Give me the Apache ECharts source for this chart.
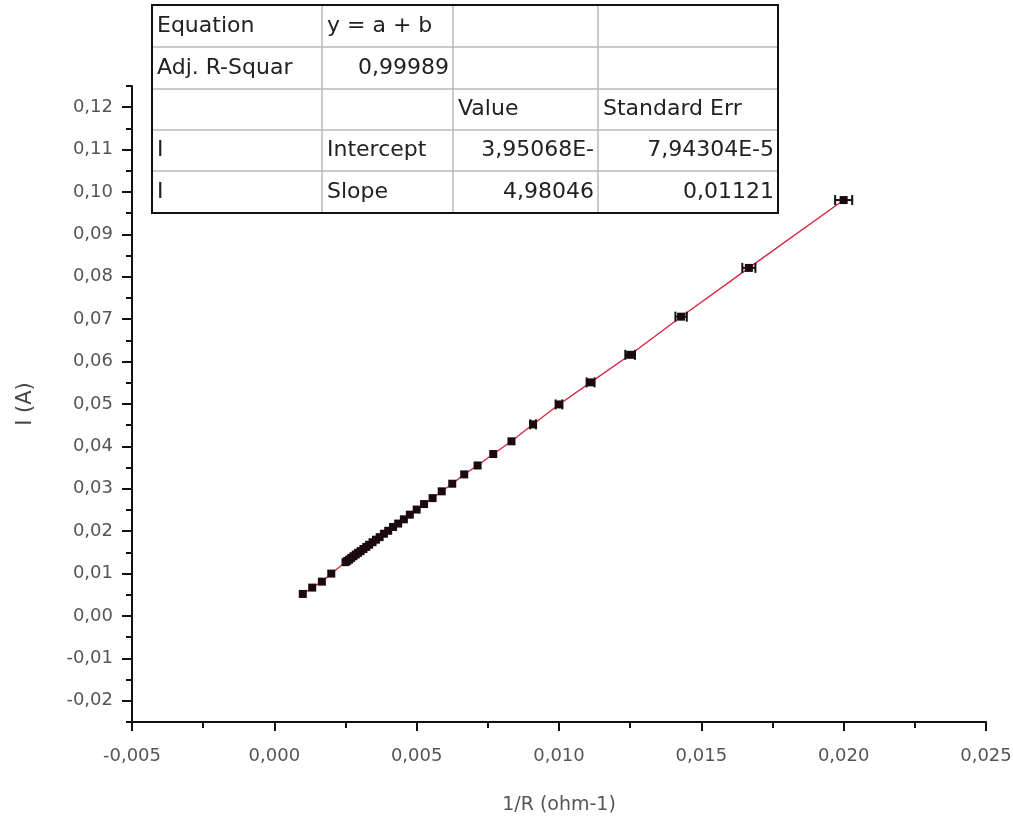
<!DOCTYPE html>
<html>
<head>
<meta charset="utf-8">
<script src="https://cdn.jsdelivr.net/npm/echarts@6/dist/echarts.min.js"></script>
<style>
  html, body { margin: 0; padding: 0; background: #fff; }
  #main { width: 1013px; height: 816px; }
</style>
</head>
<body>
<div id="main"></div>
<script>
// 1/R values (ohm^-1) and current I (A)
const xVals = [0.00100, 0.00133, 0.00167, 0.00200,
  0.00250, 0.00256, 0.00263, 0.00270, 0.00278, 0.00286, 0.00294, 0.00303,
  0.00313, 0.00323, 0.00333, 0.00345, 0.00357, 0.00370, 0.00385, 0.00400,
  0.00417, 0.00435, 0.00455, 0.00476, 0.00500, 0.00526, 0.00556, 0.00588,
  0.00625, 0.00667, 0.00714, 0.00769, 0.00833, 0.00909, 0.01000, 0.01111,
  0.01250, 0.01429, 0.01667, 0.02000];
const yVals = [0.0052, 0.0067, 0.0081, 0.0100,
  0.0127, 0.0130, 0.0133, 0.0137, 0.0141, 0.0145, 0.0149, 0.0153,
  0.0158, 0.0163, 0.0168, 0.0174, 0.0180, 0.0186, 0.0194, 0.0201,
  0.0210, 0.0218, 0.0228, 0.0239, 0.0251, 0.0264, 0.0278, 0.0294,
  0.0312, 0.0334, 0.0355, 0.0382, 0.0412, 0.0452, 0.0499, 0.0551,
  0.0616, 0.0706, 0.0821, 0.0981];
// horizontal error on 1/R
const xErrs = [0.00001, 0.00001, 0.00001, 0.00001,
  0.00002, 0.00002, 0.00002, 0.00002, 0.00002, 0.00002, 0.00002, 0.00002,
  0.00002, 0.00002, 0.00002, 0.00002, 0.00002, 0.00002, 0.00002, 0.00002,
  0.00002, 0.00002, 0.00002, 0.00003, 0.00003, 0.00003, 0.00003, 0.00003,
  0.00004, 0.00005, 0.00006, 0.00007, 0.00008, 0.00010, 0.00012, 0.00014,
  0.00017, 0.00020, 0.00023, 0.00030];

const yLabelTicks = [-0.02, -0.01, 0.00, 0.01, 0.02, 0.03, 0.04, 0.05, 0.06, 0.07, 0.08, 0.09, 0.10, 0.11, 0.12];

// fit result table
const tableRows = [
  ['Equation', 'y = a + b', '', ''],
  ['Adj. R-Squar', '0,99989', '', ''],
  ['', '', 'Value', 'Standard Err'],
  ['I', 'Intercept', '3,95068E-', '7,94304E-5'],
  ['I', 'Slope', '4,98046', '0,01121']
];

const chart = echarts.init(document.getElementById('main'));

const colX = [152, 322, 453, 598, 778];
const rowY = [5, 47, 89, 130, 171, 213];
const tableFont = '"DejaVu Sans", sans-serif';

function buildTable() {
  const children = [];
  children.push({
    type: 'rect',
    shape: { x: colX[0], y: rowY[0], width: colX[4] - colX[0], height: rowY[5] - rowY[0] },
    style: { fill: '#fff', stroke: null }
  });
  for (let i = 1; i < colX.length - 1; i++) {
    children.push({ type: 'line', shape: { x1: colX[i], y1: rowY[0], x2: colX[i], y2: rowY[5] },
      style: { stroke: '#b8b8b8', lineWidth: 1.5 } });
  }
  for (let j = 1; j < rowY.length - 1; j++) {
    children.push({ type: 'line', shape: { x1: colX[0], y1: rowY[j], x2: colX[4], y2: rowY[j] },
      style: { stroke: '#b8b8b8', lineWidth: 1.5 } });
  }
  children.push({
    type: 'rect',
    shape: { x: colX[0], y: rowY[0], width: colX[4] - colX[0], height: rowY[5] - rowY[0] },
    style: { fill: null, stroke: '#111', lineWidth: 2 }
  });
  tableRows.forEach((row, r) => {
    row.forEach((txt, c) => {
      if (!txt) return;
      const numeric = /^-?\d/.test(txt);
      children.push({
        type: 'text',
        x: numeric ? colX[c + 1] - 4 : colX[c] + 5,
        y: (rowY[r] + rowY[r + 1]) / 2,
        style: {
          text: txt, fill: '#222', font: '22px ' + tableFont,
          align: numeric ? 'right' : 'left', verticalAlign: 'middle'
        }
      });
    });
  });
  return { type: 'group', z: 100, children: children };
}

const axisFont = '"DejaVu Sans", sans-serif';

chart.setOption({
  animation: false,
  backgroundColor: '#fff',
  grid: { left: 132, right: 27, top: 86, bottom: 94, containLabel: false, outerBoundsMode: 'none' },
  xAxis: {
    type: 'value',
    min: -0.005, max: 0.025, interval: 0.005,
    name: '1/R (ohm-1)', nameLocation: 'middle', nameGap: 74,
    nameTextStyle: { fontFamily: axisFont, fontSize: 19, color: '#555' },
    axisLine: { show: true, onZero: false, lineStyle: { color: '#111', width: 2 } },
    axisTick: { show: true, inside: false, length: 9, lineStyle: { color: '#111', width: 2 } },
    minorTick: { show: true, splitNumber: 2, length: 6, lineStyle: { color: '#111', width: 2 } },
    splitLine: { show: false },
    axisLabel: {
      margin: 25, fontFamily: axisFont, fontSize: 18, color: '#555',
      formatter: v => v.toFixed(3).replace('.', ',')
    }
  },
  yAxis: [
    {
      type: 'value',
      min: -0.025, max: 0.125, interval: 0.005,
      axisLine: { show: true, onZero: false, lineStyle: { color: '#111', width: 2 } },
      axisTick: { show: true, inside: false, length: 6, lineStyle: { color: '#111', width: 2 } },
      axisLabel: { show: false },
      splitLine: { show: false }
    },
    {
      type: 'value', position: 'left', offset: 0,
      min: -0.025, max: 0.125,
      name: 'I (A)', nameLocation: 'middle', nameGap: 96, nameRotate: 90,
      nameTextStyle: { fontFamily: axisFont, fontSize: 21, color: '#444' },
      axisLine: { show: false, onZero: false },
      axisTick: { show: true, customValues: yLabelTicks, length: 10, lineStyle: { color: '#111', width: 2 } },
      axisLabel: {
        customValues: yLabelTicks, margin: 19,
        fontFamily: axisFont, fontSize: 18, color: '#555',
        formatter: v => v.toFixed(2).replace('.', ',')
      },
      splitLine: { show: false }
    }
  ],
  series: [
    {
      type: 'line',
      data: xVals.map((x, i) => [x, yVals[i]]),
      showSymbol: false,
      lineStyle: { color: '#d8203e', width: 1.3 },
      z: 2
    },
    {
      type: 'custom',
      data: xVals.map((x, i) => [x, yVals[i], xErrs[i]]),
      encode: { x: 0, y: 1 },
      z: 3,
      renderItem: function (params, api) {
        const x = api.value(0), y = api.value(1), e = api.value(2);
        const c = api.coord([x, y]);
        const l = api.coord([x - e, y]);
        const r = api.coord([x + e, y]);
        const ink = { stroke: '#111', lineWidth: 2 };
        const kids = [];
        if (r[0] - l[0] > 5) {
          kids.push({ type: 'line', shape: { x1: l[0], y1: c[1], x2: r[0], y2: c[1] }, style: ink });
          kids.push({ type: 'line', shape: { x1: l[0], y1: c[1] - 5, x2: l[0], y2: c[1] + 5 }, style: ink });
          kids.push({ type: 'line', shape: { x1: r[0], y1: c[1] - 5, x2: r[0], y2: c[1] + 5 }, style: ink });
        }
        kids.push({ type: 'rect', shape: { x: c[0] - 4, y: c[1] - 4, width: 8, height: 8 },
          style: { fill: '#1a0a0e', stroke: null } });
        return { type: 'group', children: kids };
      }
    }
  ],
  graphic: [buildTable()]
});
</script>
</body>
</html>
